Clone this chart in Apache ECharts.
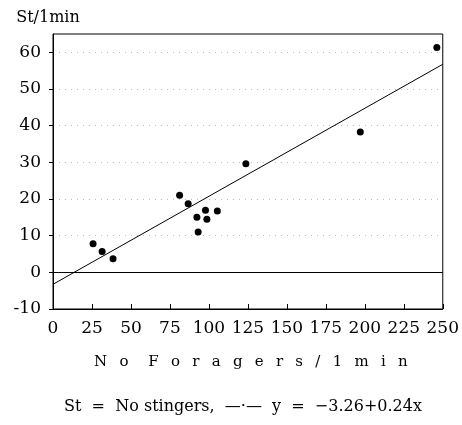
<!DOCTYPE html>
<html>
<head>
<meta charset="utf-8">
<script src="https://cdn.jsdelivr.net/npm/echarts@6/dist/echarts.min.js"></script>
<style>
  body { margin: 0; background: #fff; }
  #main { width: 462px; height: 425px; }
</style>
</head>
<body>
<div id="main"></div>
<script>
// foragers per minute vs stingers per minute
var foragers = [25.7, 31.5, 38.5, 81.2, 86.7, 92.3, 93.1, 97.8, 98.7, 105.4, 123.7, 197.1, 246.2]
var stingers = [7.8, 5.7, 3.7, 21.0, 18.7, 15.0, 11.0, 16.9, 14.5, 16.7, 29.6, 38.3, 61.3]
// y = -3.26 + 0.24x, end points
var fitLine = [[0, -3.26], [250, 56.74]]
var yTicks = [-10, 0, 10, 20, 30, 40, 50, 60]

var points = foragers.map(function (x, i) { return [x, stingers[i]] })
var font = 'DejaVu Serif'
var sp = '\u2002 '
var xName = ['N', 'o'].join(sp) + '\u2003 ' + 'Foragers'.split('').join(sp) + '\u2002 /\u2002 ' + ['1', 'm', 'i', 'n'].join(sp)

var chart = echarts.init(document.getElementById('main'))
chart.setOption({
  animation: false,
  title: {
    text: 'St  =  No stingers,  \u2014\u00b7\u2014  y  =  \u22123.26+0.24x',
    left: 238,
    textAlign: 'center',
    top: 394,
    textStyle: { fontFamily: font, fontSize: 16, fontWeight: 'normal', color: '#000' }
  },
  grid: {
    left: 53, right: 17, top: 34, bottom: 116,
    show: true, borderColor: '#000', borderWidth: 1
  },
  xAxis: {
    type: 'value',
    min: 0, max: 250, interval: 25,
    name: xName,
    nameLocation: 'middle',
    nameGap: 46,
    nameTextStyle: { fontFamily: font, fontSize: 15, color: '#000', padding: [0, 0, 0, 6] },
    axisLine: { onZero: false, lineStyle: { color: '#000' } },
    axisTick: { inside: true, length: 5, lineStyle: { color: '#000' } },
    axisLabel: { fontFamily: font, fontSize: 17, color: '#000', margin: 11 },
    splitLine: { show: false }
  },
  yAxis: {
    type: 'value',
    min: -10, max: 65, interval: 10,
    name: 'St/1min',
    nameLocation: 'end',
    nameGap: 8,
    nameTextStyle: { fontFamily: font, fontSize: 16, color: '#000', padding: [0, 10, 0, 0] },
    axisLine: { show: true, lineStyle: { color: '#000' } },
    axisTick: { show: true, length: 4, customValues: yTicks, lineStyle: { color: '#000' } },
    axisLabel: { fontFamily: font, fontSize: 17, color: '#000', margin: 12, customValues: yTicks },
    splitLine: { show: true, lineStyle: { color: '#bbb', type: [1, 5], width: 1 } }
  },
  series: [
    {
      type: 'scatter',
      data: points,
      symbol: 'circle',
      symbolSize: 7,
      itemStyle: { color: '#000', opacity: 1 },
      markLine: {
        silent: true,
        symbol: 'none',
        label: { show: false },
        lineStyle: { color: '#000', type: 'solid', width: 1 },
        data: [{ yAxis: 0 }]
      }
    },
    {
      type: 'line',
      data: fitLine,
      symbol: 'none',
      lineStyle: { color: '#000', width: 1 }
    }
  ]
})
</script>
</body>
</html>
